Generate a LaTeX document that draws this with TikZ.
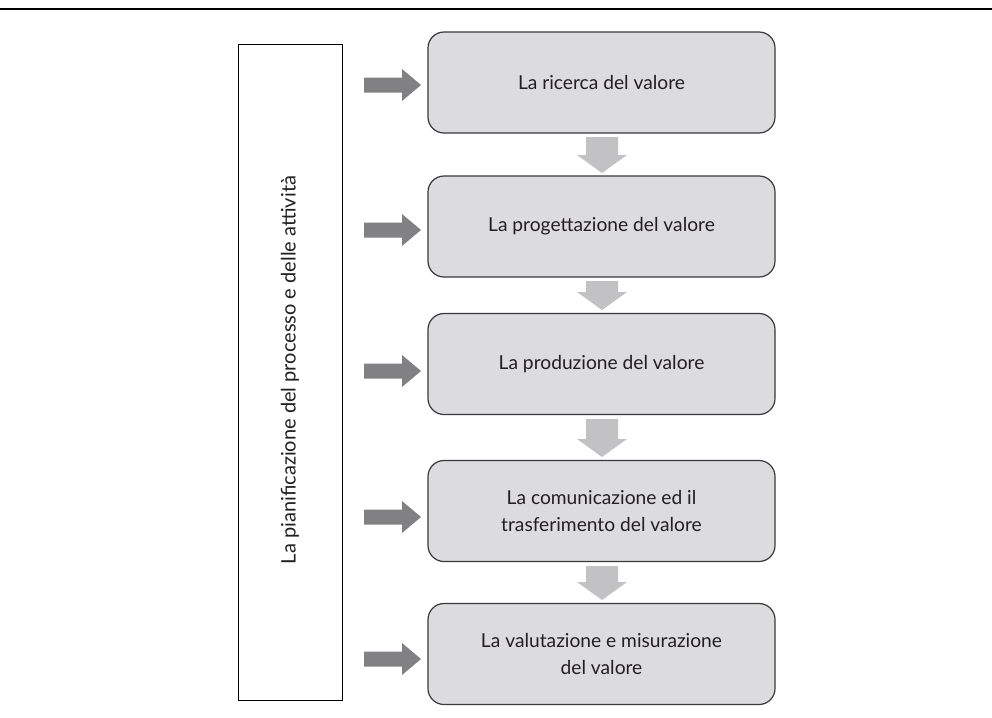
\documentclass[tikz,border=0pt]{standalone}
\usepackage{fontspec}
\setmainfont{Lato}
\definecolor{boxfill}{HTML}{DCDCDE}
\definecolor{boxline}{HTML}{3A3A3C}
\definecolor{sidearrow}{HTML}{818184}
\definecolor{downarrow}{HTML}{C2C2C4}
\definecolor{txt}{HTML}{231F20}
\begin{document}
\begin{tikzpicture}[x=1pt,y=-1pt,
  stepbox/.style={draw=boxline,line width=1.2pt,fill=boxfill,rounded corners=16pt,
    minimum width=347pt,minimum height=101pt,align=center,text=txt,
    font=\fontsize{19.2}{27}\selectfont,inner sep=0pt},
  sidebox/.style={draw=black,line width=0.9pt,fill=white,minimum width=104pt,minimum height=656pt,inner sep=0pt},
  rarrow/.style={fill=sidearrow},
  darrow/.style={fill=downarrow}]
\useasboundingbox (0,0) rectangle (992,717);
\fill[white] (0,0) rectangle (992,717);
\draw[line width=2pt,black] (0,9.5) coordinate (tl) -- (992,9.5) coordinate (tr);
\node[sidebox] (side) at (290,372) {};
\node[rotate=90,text=txt,font=\fontsize{20}{24}\selectfont] (sidetext) at (290,370) {La pianificazione del processo e delle attività};
\node[stepbox] (b1) at (601.5,82.5) {La ricerca del valore};
\node[stepbox] (b2) at (601.5,226.5) {La progettazione del valore};
\node[stepbox] (b3) at (601.5,364) {La produzione del valore};
\node[stepbox] (b4) at (601.5,511) {La comunicazione ed il\\trasferimento del valore};
\node[stepbox] (b5) at (601.5,654) {La valutazione e misurazione\\del valore};
% side arrows
\foreach \cy in {85,230,371,517,659}{
  \fill[rarrow] (364,\cy-7.5) -- (402,\cy-7.5) -- (402,\cy-16) -- (421,\cy) -- (402,\cy+16) -- (402,\cy+7.5) -- (364,\cy+7.5) -- cycle;
}
% down arrows
\foreach \ya/\yb in {137/173,281/310,419/457,566/600}{
  \fill[darrow] (586,\ya) -- (618,\ya) -- (618,\yb-18) -- (627,\yb-18) -- (602,\yb) -- (577,\yb-18) -- (586,\yb-18) -- cycle;
}
\end{tikzpicture}
\end{document}
